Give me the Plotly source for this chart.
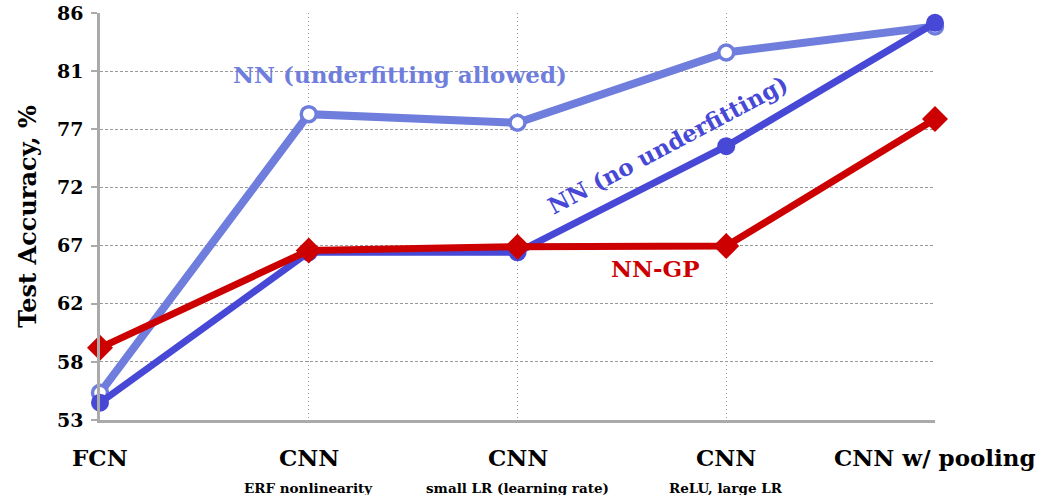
import plotly.graph_objects as go

categories = ["FCN", "CNN", "CNN", "CNN", "CNN w/ pooling"]
sublabels = ["", "ERF nonlinearity", "small LR (learning rate)", "ReLU, large LR", ""]
nn_underfit = [55.2, 77.8, 77.1, 82.8, 84.9]
nn_no_underfit = [54.4, 66.6, 66.6, 75.2, 85.2]
nn_gp = [58.85, 66.75, 67.05, 67.1, 77.4]
ytick_vals = [53 + i * 33 / 7 for i in range(8)]
ytick_text = ["53", "58", "62", "67", "72", "77", "81", "86"]

FONT = "DejaVu Serif"
xs = list(range(len(categories)))

fig = go.Figure()
fig.add_trace(go.Scatter(
    x=xs, y=nn_underfit, mode="lines+markers", cliponaxis=False,
    line=dict(color="#6f7edc", width=8),
    marker=dict(symbol="circle", size=15, color="white", line=dict(color="#6f7edc", width=3.5)),
    showlegend=False))
fig.add_trace(go.Scatter(
    x=xs, y=nn_no_underfit, mode="lines+markers", cliponaxis=False,
    line=dict(color="#4848d6", width=7),
    marker=dict(symbol="circle", size=18, color="#4848d6"),
    showlegend=False))
fig.add_trace(go.Scatter(
    x=xs, y=nn_gp, mode="lines+markers", cliponaxis=False,
    line=dict(color="#cc0000", width=7),
    marker=dict(symbol="diamond", size=20, color="#cc0000"),
    showlegend=False))

annotations = []
for i, (c, s) in enumerate(zip(categories, sublabels)):
    annotations.append(dict(x=i, y=-0.091, xref="x", yref="paper", text="<b>%s</b>" % c,
                            showarrow=False, font=dict(family=FONT, size=23, color="black"),
                            yanchor="middle"))
    if s:
        annotations.append(dict(x=i, y=-0.167, xref="x", yref="paper", text="<b>%s</b>" % s,
                                showarrow=False, font=dict(family=FONT, size=13.5, color="black"),
                                yanchor="middle"))

annotations += [
    dict(x=1.437, y=81.0, xref="x", yref="y", text="<b>NN (underfitting allowed)</b>",
         showarrow=False, font=dict(family=FONT, size=23, color="#6f7edc")),
    dict(x=2.72, y=75.3, xref="x", yref="y", text="<b>NN (no underfitting)</b>",
         showarrow=False, textangle=-28, font=dict(family=FONT, size=23, color="#4848d6")),
    dict(x=2.66, y=65.3, xref="x", yref="y", text="<b>NN-GP</b>",
         showarrow=False, font=dict(family=FONT, size=23, color="#cc0000")),
    dict(x=4.05, y=78.7, xref="x", yref="y", text="2",
         showarrow=False, font=dict(family=FONT, size=12, color="#f5a03c")),
]

fig.update_layout(
    width=1048, height=495,
    margin=dict(l=100, r=113, t=13, b=75, autoexpand=False),
    paper_bgcolor="white", plot_bgcolor="white",
    font=dict(family=FONT, color="black"),
    annotations=annotations,
    xaxis=dict(range=[0, 4], tickvals=xs, showticklabels=False, automargin=False,
               showgrid=True, gridcolor="#999999", griddash="1px,3px", gridwidth=1,
               showline=True, linecolor="#aaaaaa", linewidth=2.5, zeroline=False,
               ticks=""),
    yaxis=dict(range=[53, 86], tickvals=ytick_vals, automargin=False,
               ticktext=["<b>%s</b>" % t for t in ytick_text],
               tickfont=dict(family=FONT, size=19, color="black"),
               ticklabelstandoff=4,
               showgrid=True, gridcolor="#999999", griddash="3px,2px", gridwidth=1,
               showline=True, linecolor="#aaaaaa", linewidth=2.5, zeroline=False,
               ticks="outside", ticklen=6, tickcolor="#aaaaaa", tickwidth=2,
               title=dict(text="<b>Test Accuracy, %</b>", font=dict(family=FONT, size=24, color="black"),
                          standoff=14)),
)

fig.write_html("out.html", post_script="document.body.style.margin='0';",
               config={"displayModeBar": False})
